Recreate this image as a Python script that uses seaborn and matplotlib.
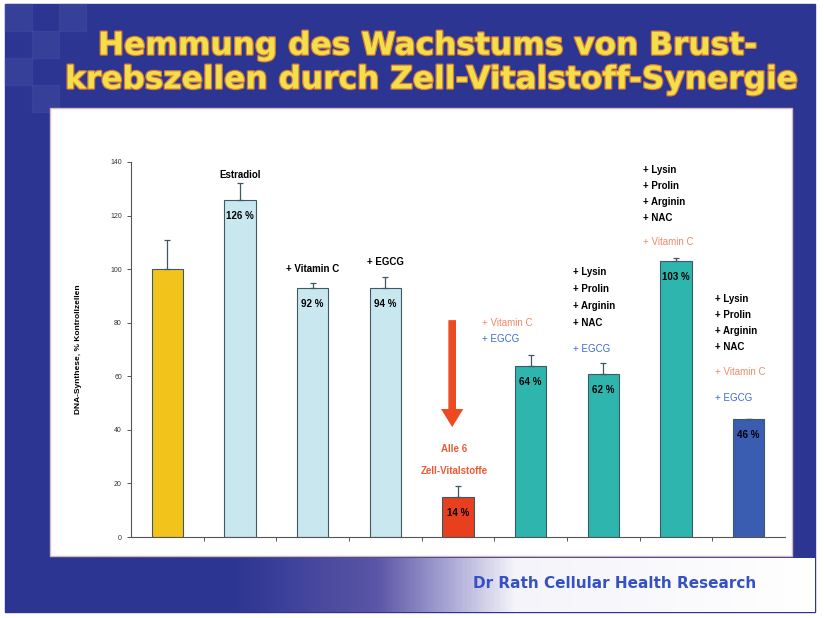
import numpy as np
import pandas as pd
import matplotlib
matplotlib.use('Agg')
import matplotlib.pyplot as plt
import matplotlib.patheffects as pe
from matplotlib.colors import LinearSegmentedColormap
from matplotlib.patches import Rectangle
import seaborn as sb

#-------------------------------------------------------------------------------------------------
# data
#-------------------------------------------------------------------------------------------------
groups = ['Kontrolle', 'Estradiol', 'Vitamin C', 'EGCG', 'Alle 6',
          'VitC+EGCG', 'LPAN+EGCG', 'LPAN+VitC', 'LPAN+VitC+EGCG']
values = [100, 126, 93, 93, 15, 64, 61, 103, 44]
err_up = [11, 6, 2, 4, 4, 4, 4, 1, 0]
bar_labels = ['', '126 %', '92 %', '94 %', '14 %', '64 %', '62 %', '103 %', '46 %']
bar_colors = ['#f2c31a', '#c9e7ef', '#c9e7ef', '#c9e7ef', '#e8401e',
              '#2db5ae', '#2db5ae', '#2db5ae', '#3a5db2']
yticks = [0, 20, 40, 60, 80, 100, 120, 140]

df = pd.DataFrame({'group': groups, 'value': values})

plt.rcParams['font.family'] = ['Liberation Sans', 'DejaVu Sans']

#-------------------------------------------------------------------------------------------------
# slide background
#-------------------------------------------------------------------------------------------------
fig = plt.figure(figsize=(8.24, 6.18), dpi=100)
fig.patch.set_facecolor('white')
bg = fig.add_axes([0, 0, 1, 1], zorder=0)
bg.set_xlim(0, 824)
bg.set_ylim(618, 0)
bg.axis('off')

slide_blue = '#2c3592'
bg.add_patch(Rectangle((5, 4), 810, 608, color=slide_blue))
# faint checker squares top left
for (cx, cy) in [(5, 4), (32, 31), (5, 58), (59, 4), (32, 85)]:
    bg.add_patch(Rectangle((cx, cy), 27, 27, color='#4a55a8', alpha=0.35))

# gradient band at the bottom
grad = LinearSegmentedColormap.from_list(
    'band', [(0, slide_blue), (0.28, slide_blue), (0.46, '#5b56a6'), (0.55, '#aba8d6'),
             (0.63, '#f4f4fa'), (1, 'white')])
bg.imshow(np.linspace(0, 1, 400).reshape(1, -1), cmap=grad, aspect='auto',
          extent=[5, 815, 612, 558], zorder=1)

# white chart panel
bg.add_patch(Rectangle((50, 108), 742, 448, facecolor='white', edgecolor='#d9b7b7', lw=1, zorder=2))

title_fx = [pe.withStroke(linewidth=1.8, foreground='#d27a3a')]
bg.text(428, 46, 'Hemmung des Wachstums von Brust-', ha='center', va='center', fontsize=22.5,
        fontweight='bold', family='DejaVu Sans', color='#f3df4a', zorder=3, path_effects=title_fx)
bg.text(432, 80, 'krebszellen durch Zell-Vitalstoff-Synergie', ha='center', va='center', fontsize=22.5,
        fontweight='bold', family='DejaVu Sans', color='#f3df4a', zorder=3, path_effects=title_fx)
bg.text(615, 583, 'Dr Rath Cellular Health Research', ha='center', va='center', fontsize=11,
        fontweight='bold', family='DejaVu Sans', color='#3552c4', zorder=3)

#-------------------------------------------------------------------------------------------------
# bar chart
#-------------------------------------------------------------------------------------------------
ax = fig.add_axes([131 / 824, 1 - 537 / 618, 654 / 824, 375 / 618], zorder=5)
ax.set_facecolor('none')
sb.barplot(data=df, x='group', y='value', hue='group', palette=bar_colors, legend=False,
           saturation=1, width=0.43, edgecolor='#3d5a64', linewidth=0.8, ax=ax)
ax.errorbar(x=np.arange(len(values)), y=values, yerr=[np.zeros(len(values)), err_up],
            fmt='none', ecolor='#3d5a64', elinewidth=0.9, capsize=2.5, capthick=0.9)

ax.set_xlim(-0.5, 8.5)
ax.set_ylim(0, 140)
ax.set_yticks(yticks)
ax.set_yticklabels([str(t) for t in yticks], fontsize=5, color='#333333')
ax.set_xticks(np.arange(0.5, 8.5, 1))
ax.set_xticklabels([])
ax.tick_params(axis='both', length=3, width=0.7, color='#555555', direction='out')
ax.set_xlabel('')
ax.set_ylabel('DNA-Synthese, % Kontrollzellen', fontsize=6, fontweight='bold', labelpad=20)
for s in ['top', 'right']:
    ax.spines[s].set_visible(False)
for s in ['left', 'bottom']:
    ax.spines[s].set_color('#555555')
    ax.spines[s].set_linewidth(0.8)

# value labels inside bars
for i, lab in enumerate(bar_labels):
    if lab:
        ax.text(i, values[i] - 6, lab, ha='center', va='center', fontsize=7, fontweight='bold')

#-------------------------------------------------------------------------------------------------
# annotations
#-------------------------------------------------------------------------------------------------
salmon = '#f08a6a'
blue = '#3a6ad8'
ax.text(1, 135, 'Estradiol', ha='center', va='center', fontsize=7, fontweight='bold')
ax.text(2, 100, '+ Vitamin C', ha='center', va='center', fontsize=7, fontweight='bold')
ax.text(3, 102.5, '+ EGCG', ha='center', va='center', fontsize=7, fontweight='bold')

ax.annotate('', xy=(3.92, 40), xytext=(3.92, 82),
            arrowprops=dict(arrowstyle='simple,head_width=1.6,head_length=1.3,tail_width=0.55',
                            color='#ee4a22', lw=0))
ax.text(3.95, 33, 'Alle 6', ha='center', va='center', fontsize=7, fontweight='bold', color='#ee5a36')
ax.text(3.95, 24.5, 'Zell-Vitalstoffe', ha='center', va='center', fontsize=7, fontweight='bold',
        color='#ee5a36')

ax.text(4.33, 80, '+ Vitamin C', ha='left', va='center', fontsize=7, color=salmon)
ax.text(4.33, 74, '+ EGCG', ha='left', va='center', fontsize=7, color=blue)

lpan = ['+ Lysin', '+ Prolin', '+ Arginin', '+ NAC']
for k, t in enumerate(lpan):
    ax.text(5.58, 99 - 6.4 * k, t, ha='left', va='center', fontsize=7, fontweight='bold')
    ax.text(6.55, 137 - 6.0 * k, t, ha='left', va='center', fontsize=7, fontweight='bold')
    ax.text(7.53, 89 - 6.0 * k, t, ha='left', va='center', fontsize=7, fontweight='bold')
ax.text(5.58, 70, '+ EGCG', ha='left', va='center', fontsize=7, color=blue)
ax.text(6.55, 110, '+ Vitamin C', ha='left', va='center', fontsize=7, color=salmon)
ax.text(7.53, 61.5, '+ Vitamin C', ha='left', va='center', fontsize=7, color=salmon)
ax.text(7.53, 52, '+ EGCG', ha='left', va='center', fontsize=7, color=blue)

fig.savefig('out.png', dpi=100)
